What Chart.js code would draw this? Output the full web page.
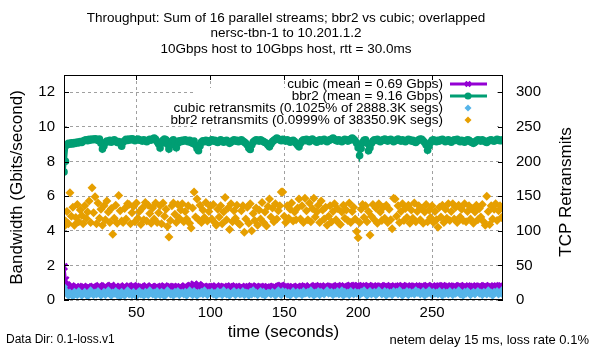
<!DOCTYPE html>
<html>
<head>
<meta charset="utf-8">
<script src="https://cdn.jsdelivr.net/npm/chart.js@4.4.1/dist/chart.umd.min.js"></script>
<style>
  html, body { margin: 0; padding: 0; background: #ffffff; }
  #wrap { width: 600px; height: 350px; }
</style>
</head>
<body>
<div id="wrap"><canvas id="chart" width="600" height="350"></canvas></div>
<script>
// ==================== DONNEES ====================
// one sample per second, starting at t = 1 s
const startTime = 1;

const titleLines = [
  'Throughput: Sum of 16 parallel streams; bbr2 vs cubic; overlapped',
  'nersc-tbn-1 to 10.201.1.2',
  '10Gbps host to 10Gbps host, rtt = 30.0ms'
];
const seriesLabels = [
  'cubic (mean = 0.69 Gbps)',
  'bbr2 (mean = 9.16 Gbps)',
  'cubic retransmits (0.1025% of 2888.3K segs)',
  'bbr2 retransmits (0.0999% of 38350.9K segs)'
];
const xTicks = [50, 100, 150, 200, 250];
const yTicks = [0, 2, 4, 6, 8, 10, 12];
const y2Ticks = [0, 50, 100, 150, 200, 250, 300];

// Gbits/sec
const cubicBw = [
  1.92,1.15,0.86,0.78,0.72,0.80,0.74,0.68,0.76,0.70,0.66,0.74,0.70,0.78,0.72,0.68,0.75,0.70,0.66,0.73,
  0.78,0.72,0.68,0.75,0.82,0.70,0.66,0.74,0.80,0.72,0.68,0.76,0.84,0.74,0.70,0.78,0.72,0.68,0.76,0.70,
  0.74,0.80,0.72,0.68,0.75,0.70,0.78,0.82,0.72,0.68,0.74,0.70,0.77,0.72,0.66,0.74,0.80,0.72,0.70,0.76,
  0.72,0.68,0.74,0.78,0.70,0.66,0.75,0.72,0.80,0.74,0.70,0.68,0.76,0.72,0.78,0.70,0.74,0.68,0.72,0.76,
  0.70,0.74,0.80,0.72,0.68,0.76,0.84,0.78,0.90,0.82,0.74,0.88,0.80,0.72,0.76,0.70,0.74,0.68,0.78,0.72,
  0.76,0.70,0.74,0.80,0.72,0.68,0.75,0.70,0.78,0.74,0.70,0.66,0.74,0.80,0.72,0.76,0.70,0.74,0.68,0.72,
  0.78,0.72,0.68,0.74,0.70,0.76,0.72,0.80,0.74,0.70,0.68,0.75,0.72,0.78,0.70,0.74,0.68,0.72,0.76,0.70,
  0.74,0.70,0.78,0.72,0.68,0.76,0.80,0.84,0.76,0.72,0.78,0.70,0.74,0.68,0.72,0.76,0.70,0.74,0.78,0.72,
  0.70,0.76,0.72,0.80,0.74,0.70,0.78,0.72,0.68,0.76,0.82,0.74,0.78,0.72,0.76,0.70,0.74,0.80,0.72,0.76,
  0.74,0.78,0.72,0.70,0.76,0.82,0.74,0.78,0.72,0.76,0.80,0.74,0.70,0.78,0.84,0.76,0.80,0.74,0.78,0.82,
  0.76,0.80,0.74,0.78,0.72,0.76,0.82,0.78,0.74,0.80,0.76,0.72,0.78,0.74,0.80,0.76,0.72,0.78,0.82,0.76,
  0.74,0.78,0.72,0.76,0.80,0.74,0.78,0.72,0.76,0.82,0.78,0.74,0.80,0.76,0.72,0.78,0.74,0.80,0.76,0.72,
  0.78,0.74,0.80,0.76,0.72,0.78,0.82,0.76,0.74,0.80,0.76,0.72,0.78,0.74,0.80,0.76,0.82,0.78,0.74,0.80,
  0.76,0.72,0.78,0.74,0.80,0.76,0.72,0.78,0.82,0.76,0.74,0.80,0.76,0.72,0.78,0.74,0.80,0.76,0.72,0.78,
  0.74,0.80,0.76,0.72,0.78,0.82,0.76,0.74,0.80,0.76,0.72,0.78,0.74,0.80,0.76,0.82,0.78,0.74
];

const bbr2Bw = [
  7.40,8.02,8.95,9.05,9.00,9.08,9.02,9.10,9.05,9.12,9.08,9.15,9.10,9.18,9.22,9.25,9.20,9.28,9.24,9.30,
  9.26,9.32,9.28,9.22,9.30,9.05,8.72,8.90,9.10,9.18,9.15,9.22,9.12,9.20,9.25,9.18,9.10,9.15,9.05,8.88,
  9.12,9.20,9.28,9.22,9.30,9.25,9.32,9.28,9.20,9.26,9.30,9.24,9.22,9.18,9.25,9.20,9.15,9.22,9.28,9.24,
  9.30,9.35,9.28,9.15,9.02,8.78,9.05,9.22,9.30,9.25,9.00,8.72,8.95,9.18,9.25,9.10,8.80,9.05,9.20,9.15,
  9.22,9.18,9.25,9.20,9.15,9.22,9.10,9.05,9.18,8.95,8.75,8.62,8.90,9.12,9.20,9.15,9.22,9.18,9.10,9.20,
  9.25,9.18,9.22,9.15,9.10,9.18,9.25,9.20,9.12,9.18,9.22,9.15,9.05,9.12,9.20,9.25,9.18,9.22,9.15,9.20,
  9.25,9.18,9.12,9.05,8.95,8.78,8.70,8.95,9.12,9.20,9.25,9.22,9.18,9.25,9.20,9.15,9.10,9.05,8.95,8.85,
  9.02,9.15,9.22,9.28,9.35,9.30,9.25,9.20,9.28,9.22,9.18,9.25,9.20,9.12,9.18,9.22,9.15,9.05,8.95,8.85,
  9.05,9.18,9.25,9.20,9.28,9.22,9.15,9.25,9.30,9.22,9.18,9.12,9.20,9.25,9.18,9.22,9.28,9.20,9.15,9.22,
  9.25,9.30,9.35,9.28,9.22,9.18,9.25,9.20,9.15,9.22,9.28,9.25,9.18,9.22,9.30,9.35,9.28,9.20,9.05,8.80,
  8.35,8.75,9.10,9.22,9.25,9.05,8.62,8.80,9.05,9.18,9.25,9.22,9.28,9.20,9.15,9.22,9.25,9.30,9.22,9.18,
  9.25,9.28,9.22,9.15,9.20,9.25,9.30,9.22,9.18,9.25,9.20,9.15,9.22,9.28,9.25,9.18,9.22,9.15,9.10,9.18,
  9.25,9.30,9.28,9.20,9.10,8.95,8.65,8.90,9.10,9.22,9.25,9.20,9.15,9.22,9.18,9.25,9.28,9.22,9.15,9.20,
  9.25,9.18,9.12,9.20,9.25,9.22,9.28,9.20,9.15,9.22,9.18,9.12,9.20,9.25,9.22,9.15,9.10,9.05,9.12,9.20,
  9.25,9.22,9.18,9.25,9.20,9.15,9.10,9.18,9.22,9.25,9.20,9.18,9.22,9.28,9.25,9.20,9.22,9.25
];

// retransmits per second (right axis)
const cubicRetrans = [
  19,14,9,6,11,8,5,12,9,7,13,10,6,9,12,8,5,10,14,9,
  7,11,8,13,10,6,9,12,7,10,14,8,6,11,9,13,7,10,5,12,
  9,6,11,14,8,10,7,12,9,5,11,13,8,10,6,12,9,7,14,10,
  8,11,6,13,9,7,12,10,5,9,14,11,8,10,6,12,9,13,7,10,
  11,8,12,6,10,14,9,7,13,10,6,11,9,12,8,14,10,7,11,9,
  12,8,10,6,13,9,11,7,14,10,8,12,6,9,11,13,7,10,12,8,
  9,13,7,11,10,6,12,8,14,9,11,7,10,13,8,12,6,9,11,10,
  8,12,10,6,11,14,9,7,13,10,12,8,11,6,9,13,10,7,12,9,
  11,7,13,9,10,12,8,14,10,6,11,9,13,7,12,10,8,11,14,9,
  10,12,7,11,9,13,8,10,14,6,12,9,11,7,13,10,8,12,9,11,
  7,12,10,14,9,6,11,13,8,10,12,7,9,14,11,8,10,13,6,12,
  9,11,7,13,10,12,8,14,9,6,11,10,13,7,12,9,11,8,14,10,
  12,8,10,13,6,11,9,14,10,7,12,9,11,8,13,10,6,12,9,11,
  8,13,10,7,12,9,11,14,8,10,6,12,9,13,11,7,10,12,8,11,
  13,9,11,7,12,10,8,14,9,11,6,12,10,13,8,11,9,16
];

const bbr2Retrans = [
  106,114,128,110,155,121,134,108,119,138,113,130,122,110,136,118,127,143,112,162,
  126,149,110,140,118,131,108,136,116,143,127,112,132,95,118,137,111,151,129,114,
  112,132,117,139,138,110,126,135,113,140,118,128,109,133,116,141,114,137,125,111,
  133,117,140,112,126,136,110,140,121,131,106,91,115,136,140,124,112,138,118,130,
  139,113,128,117,136,111,104,133,156,120,146,116,137,112,130,119,141,114,128,135,
  117,138,112,108,131,120,136,110,127,148,116,133,102,139,113,129,118,137,111,109,
  129,136,98,117,134,111,139,100,125,115,133,108,130,117,141,112,127,107,135,146,
  120,133,113,139,117,129,136,156,156,121,112,136,118,131,140,114,127,116,133,146,
  117,136,112,147,129,116,140,113,132,147,120,127,137,112,143,130,117,134,108,121,
  136,113,128,139,116,132,111,109,127,137,118,130,115,140,112,128,134,117,99,90,
  112,131,138,119,136,113,128,94,121,138,116,133,111,139,127,115,134,118,137,112,
  131,116,103,147,146,121,136,112,128,139,115,132,119,137,111,130,118,140,113,128,
  136,116,132,111,127,138,113,130,119,136,112,128,116,105,134,120,137,112,131,118,
  139,115,128,139,117,134,112,137,120,131,115,139,113,128,136,117,132,111,127,137,
  116,132,120,138,113,108,150,128,109,136,117,131,139,115,129,136,119,133
];

// ==================== STYLE ====================
const FONT = "'Liberation Sans', Arial, sans-serif";
const colors = ['#9400d3', '#009e73', '#56b4e9', '#e69f00'];
const gridColor = '#a0a0a0';

function toPoints(values) {
  return values.map((v, i) => ({ x: startTime + i, y: v }));
}

// ==================== DECOR GNUPLOT ====================
const gnuplotDecor = {
  id: 'gnuplotDecor',
  beforeDatasetsDraw(chart) {
    // key background hides the grid behind the legend text
    const ctx = chart.ctx;
    ctx.save();
    ctx.fillStyle = '#ffffff';
    ctx.fillRect(193, 88, 304, 39);
    ctx.restore();
  },
  afterDatasetsDraw(chart) {
    const { ctx, chartArea: a, scales } = chart;
    ctx.save();
    // plot border
    ctx.strokeStyle = '#000000';
    ctx.lineWidth = 1;
    ctx.strokeRect(a.left + 0.5, a.top + 0.5, a.right - a.left - 1, a.bottom - a.top - 1);
    // inner tick marks
    const tl = 5;
    ctx.beginPath();
    yTicks.forEach(v => {
      const y = Math.round(scales.y.getPixelForValue(v)) + 0.5;
      ctx.moveTo(a.left, y); ctx.lineTo(a.left + tl, y);
    });
    y2Ticks.forEach(v => {
      const y = Math.round(scales.y2.getPixelForValue(v)) + 0.5;
      ctx.moveTo(a.right, y); ctx.lineTo(a.right - tl, y);
    });
    xTicks.forEach(v => {
      const x = Math.round(scales.x.getPixelForValue(v)) + 0.5;
      ctx.moveTo(x, a.bottom); ctx.lineTo(x, a.bottom - tl);
      ctx.moveTo(x, a.top); ctx.lineTo(x, a.top + tl);
    });
    ctx.stroke();

    // key (gnuplot style : texte a droite, echantillon apres)
    const rowY = [84, 96, 108, 120];
    ctx.font = '13.5px ' + FONT;
    ctx.textAlign = 'right';
    ctx.textBaseline = 'middle';
    chart.data.datasets.forEach((ds, i) => {
      const y = rowY[i];
      ctx.fillStyle = '#000000';
      ctx.fillText(ds.label, 443, y);
      if (ds.showLine !== false) {
        ctx.strokeStyle = ds.borderColor;
        ctx.lineWidth = ds.borderWidth;
        ctx.beginPath();
        ctx.moveTo(450, y); ctx.lineTo(487, y);
        ctx.stroke();
      }
      ctx.strokeStyle = ds.pointBorderColor;
      ctx.fillStyle = ds.pointBackgroundColor;
      ctx.lineWidth = ds.pointBorderWidth;
      Chart.helpers.drawPoint(ctx, {
        pointStyle: ds.pointStyle,
        radius: Math.min(ds.pointRadius, 3.5),
        borderWidth: ds.pointBorderWidth,
        rotation: 0
      }, 468, y);
    });
    ctx.restore();
  },
  afterDraw(chart) {
    const ctx = chart.ctx;
    ctx.save();
    ctx.fillStyle = '#000000';
    ctx.textBaseline = 'middle';
    // title
    ctx.font = '13.5px ' + FONT;
    ctx.textAlign = 'center';
    titleLines.forEach((t, i) => ctx.fillText(t, 286, 18 + i * 15.5));
    // y2 label, rotated like gnuplot (bottom to top)
    ctx.save();
    ctx.font = '17px ' + FONT;
    ctx.translate(566, 192);
    ctx.rotate(-Math.PI / 2);
    ctx.fillText('TCP Retransmits', 0, 0);
    ctx.restore();
    // footnotes
    ctx.font = '12px ' + FONT;
    ctx.textAlign = 'left';
    ctx.fillText('Data Dir: 0.1-loss.v1', 6, 340);
    ctx.font = '13px ' + FONT;
    ctx.textAlign = 'right';
    ctx.fillText('netem delay 15 ms, loss rate 0.1%', 589, 340);
    ctx.restore();
  }
};

// ==================== GRAPHIQUE ====================
const ctx = document.getElementById('chart');

new Chart(ctx, {
  type: 'line',
  data: {
    datasets: [
      {
        label: seriesLabels[0],
        data: toPoints(cubicBw),
        yAxisID: 'y',
        borderColor: colors[0],
        borderWidth: 3,
        pointStyle: 'crossRot',
        pointRadius: 4.5,
        pointBorderWidth: 2.5,
        pointBorderColor: colors[0],
        pointBackgroundColor: colors[0],
        order: 4
      },
      {
        label: seriesLabels[1],
        data: toPoints(bbr2Bw),
        yAxisID: 'y',
        borderColor: colors[1],
        borderWidth: 3,
        pointStyle: 'circle',
        pointRadius: 3.8,
        pointBorderWidth: 0,
        pointBorderColor: colors[1],
        pointBackgroundColor: colors[1],
        order: 3
      },
      {
        label: seriesLabels[2],
        data: toPoints(cubicRetrans),
        yAxisID: 'y2',
        showLine: false,
        borderColor: colors[2],
        pointStyle: 'rectRot',
        pointRadius: 4,
        pointBorderWidth: 0,
        pointBorderColor: colors[2],
        pointBackgroundColor: colors[2],
        order: 2
      },
      {
        label: seriesLabels[3],
        data: toPoints(bbr2Retrans),
        yAxisID: 'y2',
        showLine: false,
        borderColor: colors[3],
        pointStyle: 'rectRot',
        pointRadius: 4.5,
        pointBorderWidth: 0,
        pointBorderColor: colors[3],
        pointBackgroundColor: colors[3],
        order: 1
      }
    ]
  },
  options: {
    responsive: false,
    animation: false,
    devicePixelRatio: 1,
    elements: { line: { tension: 0 } },
    layout: { padding: { top: 75, left: 0, right: 0, bottom: 0 } },
    plugins: {
      legend: { display: false },
      title: { display: false },
      tooltip: { enabled: false }
    },
    scales: {
      x: {
        type: 'linear',
        position: 'bottom',
        min: 1,
        max: 298,
        afterBuildTicks: s => { s.ticks = xTicks.map(v => ({ value: v })); },
        afterFit: s => { s.height = 50; },
        grid: { color: gridColor, drawTicks: false },
        border: { display: false, dash: [3, 3] },
        ticks: { color: '#000000', font: { family: FONT, size: 15 }, padding: 4, maxRotation: 0 },
        title: {
          display: true,
          text: 'time (seconds)',
          color: '#000000',
          font: { family: FONT, size: 17 },
          padding: { top: 0, bottom: 7 }
        }
      },
      y: {
        type: 'linear',
        position: 'left',
        min: 0,
        max: 13,
        afterBuildTicks: s => { s.ticks = yTicks.map(v => ({ value: v })); },
        afterFit: s => { s.width = 64; },
        grid: { color: gridColor, drawTicks: false },
        border: { display: false, dash: [3, 3] },
        ticks: { color: '#000000', font: { family: FONT, size: 15 }, padding: 9 },
        title: {
          display: true,
          text: 'Bandwidth (Gbits/second)',
          color: '#000000',
          font: { family: FONT, size: 17 },
          padding: { top: 7, bottom: 0 }
        }
      },
      y2: {
        type: 'linear',
        position: 'right',
        min: 0,
        max: 325,
        afterBuildTicks: s => { s.ticks = y2Ticks.map(v => ({ value: v })); },
        afterFit: s => { s.width = 97; },
        grid: { display: false, drawTicks: false },
        border: { display: false },
        ticks: { color: '#000000', font: { family: FONT, size: 15 }, padding: 13 }
      }
    }
  },
  plugins: [gnuplotDecor]
});
</script>
</body>
</html>
